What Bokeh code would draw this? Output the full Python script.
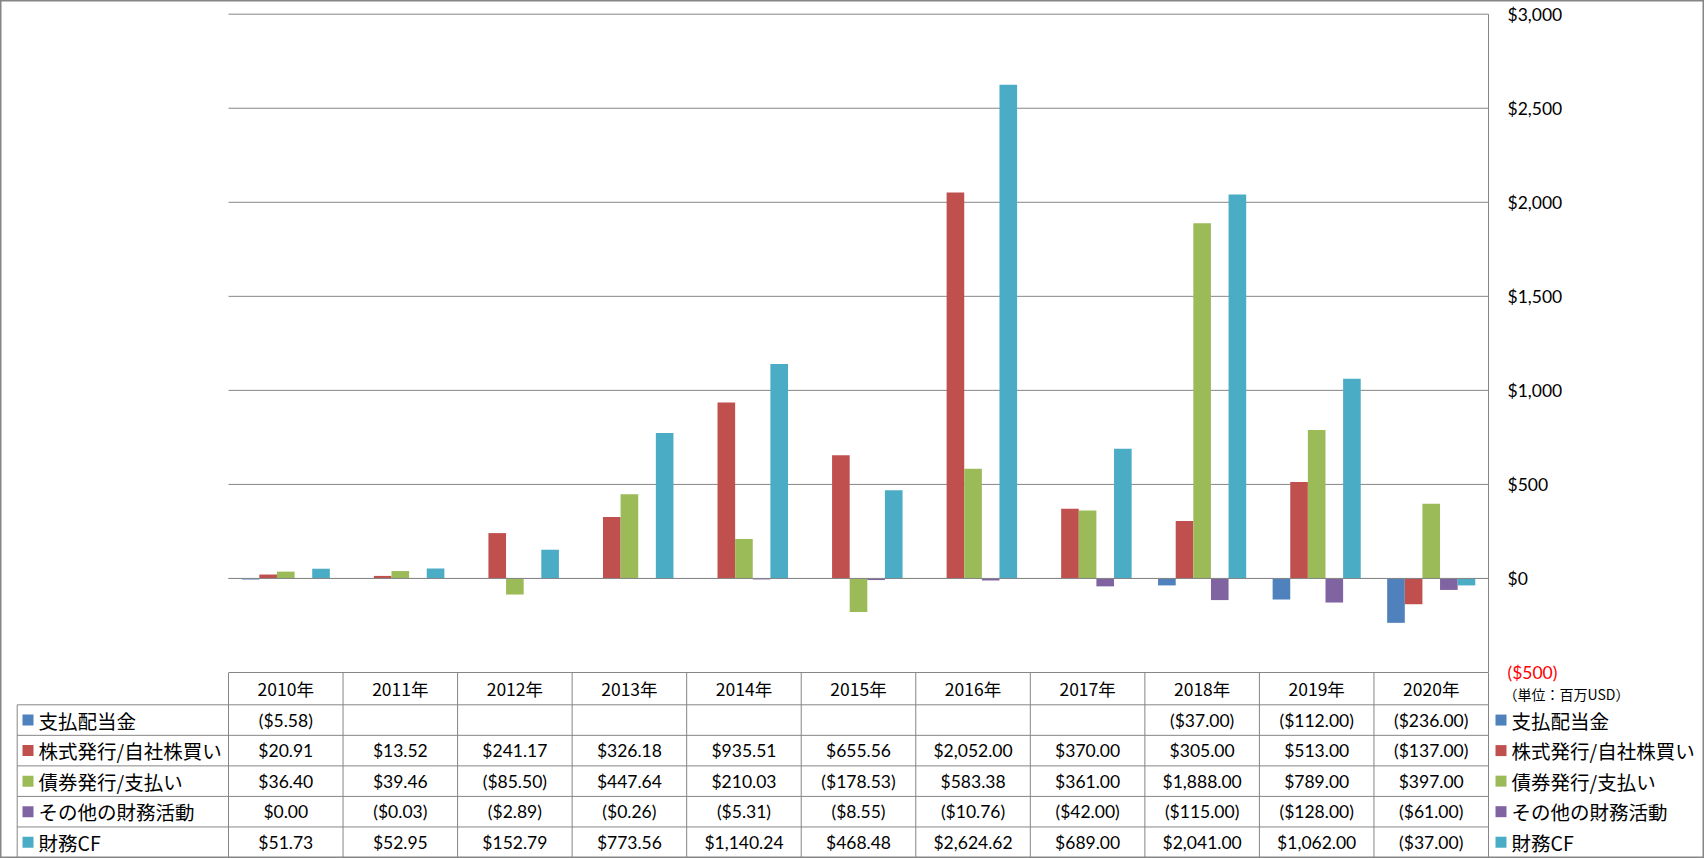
import math
from bokeh.plotting import figure
from bokeh.models import ColumnDataSource, Range1d
from bokeh.core.properties import value
from bokeh.embed import file_html
from bokeh.resources import INLINE

# ---------------- data ----------------
years = ["2010年", "2011年", "2012年", "2013年", "2014年", "2015年",
         "2016年", "2017年", "2018年", "2019年", "2020年"]
series_names = ["支払配当金", "株式発行/自社株買い", "債券発行/支払い", "その他の財務活動", "財務CF"]
dividends = [-5.58, None, None, None, None, None, None, None, -37.00, -112.00, -236.00]
stock = [20.91, 13.52, 241.17, 326.18, 935.51, 655.56, 2052.00, 370.00, 305.00, 513.00, -137.00]
bonds = [36.40, 39.46, -85.50, 447.64, 210.03, -178.53, 583.38, 361.00, 1888.00, 789.00, 397.00]
other = [0.00, -0.03, -2.89, -0.26, -5.31, -8.55, -10.76, -42.00, -115.00, -128.00, -61.00]
fin_cf = [51.73, 52.95, 152.79, 773.56, 1140.24, 468.48, 2624.62, 689.00, 2041.00, 1062.00, -37.00]
y_ticks = [-500, 0, 500, 1000, 1500, 2000, 2500, 3000]
unit_label = "（単位：百万USD）"

series = [dividends, stock, bonds, other, fin_cf]
colors = ["#4F81BD", "#C0504D", "#9BBB59", "#8064A2", "#4BACC6"]

# ---------------- layout (reference pixel geometry) ----------------
W, H = 1704, 858
PLOT_L, PLOT_R = 228.0, 1488.0
Y_TOP_VAL, Y_BOT_VAL = 3000.0, -500.0
Y_TOP_PX, Y_BOT_PX = 13.7, 672.0
n = len(years)
cat_px = (PLOT_R - PLOT_L) / n


def u(X):
    return (X - PLOT_L) / cat_px


def dollars(Y):
    return Y_TOP_VAL - (Y - Y_TOP_PX) * (Y_TOP_VAL - Y_BOT_VAL) / (Y_BOT_PX - Y_TOP_PX)


GRID = "#868686"
TXT = "#000000"

p = figure(width=W, height=H, min_border=0,
           x_axis_location=None, y_axis_location=None,
           toolbar_location=None, output_backend="svg",
           x_range=Range1d(u(0), u(W)),
           y_range=Range1d(dollars(H), dollars(0)))
p.extra_y_ranges = {"tbl": Range1d(start=H, end=0)}
p.grid.visible = False
p.outline_line_color = GRID
p.outline_line_width = 2
p.background_fill_color = "white"
p.border_fill_color = "white"

# gridlines (value axis)
p.segment(x0=[0] * len(y_ticks), x1=[n] * len(y_ticks), y0=y_ticks, y1=y_ticks,
          line_color=GRID, line_width=1)
# right axis line
p.segment(x0=[n], x1=[n], y0=[max(y_ticks)], y1=[min(y_ticks)], line_color=GRID, line_width=1)

# bars
bw = 1.0 / 6.5
for k, (vals, col) in enumerate(zip(series, colors)):
    xs = [i + 0.5 + (k - 2) * bw for i in range(n)]
    tops = [float("nan") if v is None else v for v in vals]
    src = ColumnDataSource(dict(x=xs, top=tops))
    p.vbar(x="x", top="top", bottom=0, width=bw, source=src,
           fill_color=col, line_color=None)

# zero axis line on top of bars
p.segment(x0=[0], x1=[n], y0=[0], y1=[0], line_color=GRID, line_width=1)


# tick labels (right side)
def tick_fmt(v):
    return f"(${abs(v):,.0f})" if v < 0 else f"${v:,.0f}"


tsrc = ColumnDataSource(dict(
    x=[u(1507)] * len(y_ticks), y=y_ticks,
    t=[tick_fmt(v) for v in y_ticks],
    c=["#FF0000" if v < 0 else TXT for v in y_ticks]))
p.text(x="x", y="y", text="t", text_color="c", source=tsrc,
       text_font=value("Lato"), text_font_size="17.5px",
       text_baseline="middle", text_align="left")

p.text(x=[u(1503)], y=[693], text=[unit_label], y_range_name="tbl",
       text_font=value("Noto Sans CJK JP"), text_font_size="14px",
       text_baseline="middle", text_align="left", text_color=TXT)

# ---------------- data table ----------------
HEAD_TOP, HEAD_BOT = 672.3, 704.3
TBL_BOT = 857.0
ROW_H = (TBL_BOT - HEAD_BOT) / len(series)
LBL_L = u(16.7)

# vertical column lines
p.segment(x0=list(range(n + 1)), x1=list(range(n + 1)),
          y0=[HEAD_TOP] * (n + 1), y1=[TBL_BOT] * (n + 1),
          y_range_name="tbl", line_color=GRID, line_width=1)
# left border of label column
p.segment(x0=[LBL_L], x1=[LBL_L], y0=[HEAD_BOT], y1=[TBL_BOT],
          y_range_name="tbl", line_color=GRID, line_width=1)
# horizontal row lines
row_lines = [HEAD_BOT + r * ROW_H for r in range(len(series))]
p.segment(x0=[LBL_L] * len(row_lines), x1=[n] * len(row_lines),
          y0=row_lines, y1=row_lines, y_range_name="tbl",
          line_color=GRID, line_width=1)

# header
p.text(x=[i + 0.5 for i in range(n)], y=[(HEAD_TOP + HEAD_BOT) / 2] * n, text=years,
       y_range_name="tbl", text_font=value("Noto Sans CJK JP"), text_font_size="17.5px",
       text_baseline="middle", text_align="center", text_color=TXT)


def cell_fmt(v):
    if v is None:
        return ""
    return f"(${abs(v):,.2f})" if v < 0 else f"${v:,.2f}"


row_centers = [HEAD_BOT + (r + 0.5) * ROW_H for r in range(len(series))]
cx, cy, ct = [], [], []
for r, vals in enumerate(series):
    for i, v in enumerate(vals):
        cx.append(i + 0.5)
        cy.append(row_centers[r])
        ct.append(cell_fmt(v))
p.text(x=cx, y=cy, text=ct, y_range_name="tbl",
       text_font=value("Lato"), text_font_size="17.5px",
       text_baseline="middle", text_align="center", text_color=TXT)

# legend keys in the table (left) and on the right
p.scatter(x=[u(27.5)] * len(series), y=row_centers, marker="square", size=11,
          fill_color=colors, line_color=None, y_range_name="tbl")
p.text(x=[u(38)] * len(series), y=row_centers, text=series_names, y_range_name="tbl",
       text_font=value("Noto Sans CJK JP"), text_font_size="19.5px",
       text_baseline="middle", text_align="left", text_color=TXT)

p.scatter(x=[u(1500.5)] * len(series), y=row_centers, marker="square", size=11,
          fill_color=colors, line_color=None, y_range_name="tbl")
p.text(x=[u(1511)] * len(series), y=row_centers, text=series_names, y_range_name="tbl",
       text_font=value("Noto Sans CJK JP"), text_font_size="19.5px",
       text_baseline="middle", text_align="left", text_color=TXT)

open("out.html", "w").write(file_html(p, INLINE))
